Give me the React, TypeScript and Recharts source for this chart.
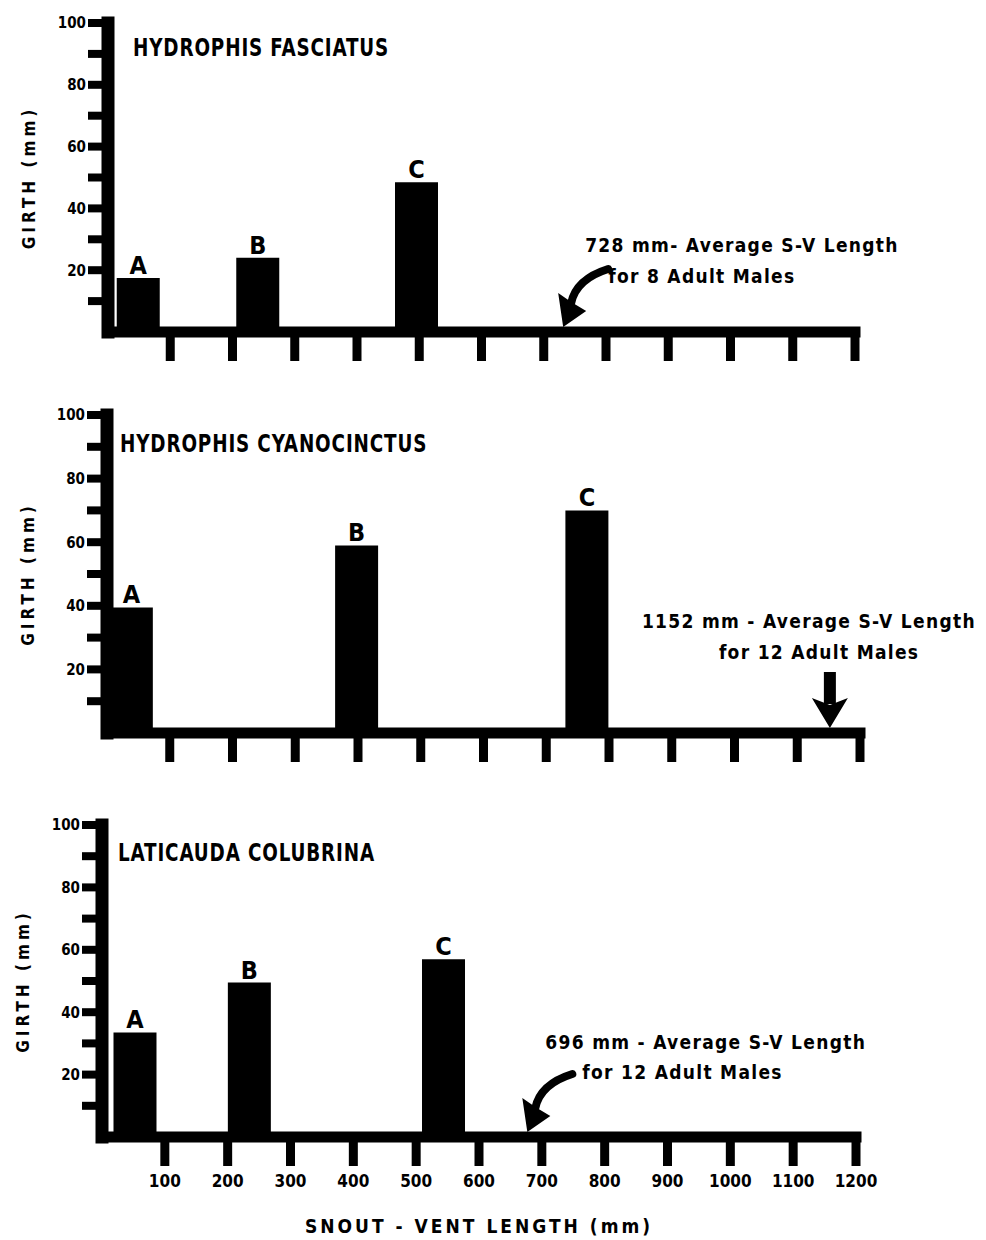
import React from 'react';
import { BarChart, Bar, XAxis, YAxis, LabelList, ReferenceDot } from 'recharts';

const FONT = '"DejaVu Sans Condensed", "Liberation Sans Narrow", "Roboto Condensed", "DejaVu Sans", sans-serif';

const barLabels = ['A', 'B', 'C'];

// snout-vent length (mm) at the centre of each bar, and girth (mm)
const fasciatusLength = [49, 241, 496];
const fasciatusGirth = [17.5, 24, 48.5];
const cyanocinctusLength = [39, 398, 765];
const cyanocinctusGirth = [39.5, 59, 70];
const colubrinaLength = [52, 234, 543];
const colubrinaGirth = [33.5, 49.5, 57];

const xTicks = [100, 200, 300, 400, 500, 600, 700, 800, 900, 1000, 1100, 1200];
const yTicks = [10, 20, 30, 40, 50, 60, 70, 80, 90, 100];
const yLabelled = [20, 40, 60, 80, 100];

const CurvedArrow = ({ x, y }: { x: number; y: number }) => (
  <g transform={`translate(${x},${y})`}>
    <path d="M8,-24 Q13,-48 45,-58" stroke="#000" strokeWidth={8} fill="none" strokeLinecap="round" />
    <polygon points="0,0 -5,-34 8,-25 23,-16" fill="#000" />
  </g>
);

const DownArrow = ({ x, y }: { x: number; y: number }) => (
  <g transform={`translate(${x},${y})`}>
    <rect x={-6} y={-56} width={12} height={32} fill="#000" />
    <polygon points="0,0 -18,-30 0,-23 18,-30" fill="#000" />
  </g>
);

type PanelProps = {
  title: string;
  lengths: number[];
  girths: number[];
  avgLength: number;
  note: string[];
  arrow: 'curve' | 'down';
  tipDx: number;
  noteDx: number[];
  noteDy: number[];
  plotTop: number;
  plotBottom: number;
  x0: number;
  x1200: number;
  titleDx: number;
  titleDy: number;
  last?: boolean;
};

const Panel = (p: PanelProps) => {
  const data = barLabels.map((label, i) => ({ label, length: p.lengths[i], girth: p.girths[i] }));
  const padTop = 20;
  const axisH = p.last ? 100 : 40;
  const height = p.plotBottom - p.plotTop + padTop + axisH;
  const textStyle = { fontFamily: FONT, fontWeight: 700, fill: '#000' };

  const note = (props: any) => {
    const tx = props.cx + p.tipDx;
    const ty = props.cy - 5;
    return (
      <g>
        {p.arrow === 'curve' ? <CurvedArrow x={tx} y={ty} /> : <DownArrow x={tx} y={ty} />}
        {p.note.map((line, i) => (
          <text key={i} x={tx + p.noteDx[i]} y={ty + p.noteDy[i]} fontSize={19} letterSpacing={1.3} {...textStyle}>
            {line}
          </text>
        ))}
      </g>
    );
  };

  return (
    <>
      <div style={{ position: 'absolute', left: 0, top: p.plotTop - padTop }}>
        <BarChart
          width={986}
          height={height}
          data={data}
          margin={{ top: padTop, right: 986 - p.x1200, bottom: 0, left: p.x0 - 80 }}
        >
          <XAxis
            type="number"
            dataKey="length"
            domain={[0, 1200]}
            ticks={xTicks}
            height={axisH}
            interval={0}
            axisLine={{ stroke: '#000', strokeWidth: 11, strokeLinecap: 'square' }}
            tickLine={{ stroke: '#000', strokeWidth: 9 }}
            tickSize={29}
            tickMargin={9}
            tickFormatter={(v: number) => (p.last ? String(v) : '')}
            tick={{ ...textStyle, fontSize: 17 }}
            label={
              p.last
                ? {
                    value: 'SNOUT - VENT LENGTH (mm)',
                    position: 'insideBottom',
                    offset: 4,
                    style: { ...textStyle, fontSize: 19, letterSpacing: 3 },
                  }
                : undefined
            }
          />
          <YAxis
            type="number"
            domain={[0, 100]}
            ticks={yTicks}
            interval={0}
            width={80}
            axisLine={{ stroke: '#000', strokeWidth: 13, strokeLinecap: 'square' }}
            tickLine={{ stroke: '#000', strokeWidth: 8 }}
            tickSize={20}
            tickMargin={2}
            tickFormatter={(v: number) => (yLabelled.includes(v) ? String(v) : '')}
            tick={{ ...textStyle, fontSize: 15 }}
            label={{
              value: 'GIRTH (mm)',
              angle: -90,
              position: 'insideLeft',
              offset: 1,
              style: { ...textStyle, fontSize: 17, letterSpacing: 4, textAnchor: 'middle' },
            }}
          />
          <Bar dataKey="girth" fill="#000" barSize={43} isAnimationActive={false}>
            <LabelList dataKey="label" position="top" offset={4} style={{ ...textStyle, fontSize: 25 }} />
          </Bar>
          <ReferenceDot x={p.avgLength} y={0} r={0} shape={note} />
        </BarChart>
      </div>
      <div
        style={{
          position: 'absolute',
          left: p.x0 + p.titleDx,
          top: p.plotTop + p.titleDy - 12,
          fontFamily: FONT,
          fontWeight: 700,
          fontSize: 24,
          lineHeight: '24px',
          letterSpacing: 1,
          whiteSpace: 'nowrap',
          transform: 'scaleX(0.85)',
          transformOrigin: 'left center',
        }}
      >
        {p.title}
      </div>
    </>
  );
};

const App = () => (
  <div style={{ position: 'absolute', left: 0, top: 0, width: 986, height: 1240, background: '#fff' }}>
    <Panel
      title="HYDROPHIS FASCIATUS"
      lengths={fasciatusLength}
      girths={fasciatusGirth}
      avgLength={728}
      note={['728 mm- Average S-V Length', 'for 8 Adult Males']}
      arrow="curve"
      tipDx={2}
      noteDx={[22, 45]}
      noteDy={[-75, -44]}
      plotTop={23}
      plotBottom={332}
      x0={108}
      x1200={855}
      titleDx={25}
      titleDy={25}
    />
    <Panel
      title="HYDROPHIS CYANOCINCTUS"
      lengths={cyanocinctusLength}
      girths={cyanocinctusGirth}
      avgLength={1152}
      note={['1152 mm - Average S-V Length', 'for 12 Adult Males']}
      arrow="down"
      tipDx={0}
      noteDx={[-188, -111]}
      noteDy={[-100, -69]}
      plotTop={415}
      plotBottom={733}
      x0={107}
      x1200={860}
      titleDx={13}
      titleDy={29}
    />
    <Panel
      title="LATICAUDA COLUBRINA"
      lengths={colubrinaLength}
      girths={colubrinaGirth}
      avgLength={696}
      note={['696 mm - Average S-V Length', 'for 12 Adult Males']}
      arrow="curve"
      tipDx={-12}
      noteDx={[18, 55]}
      noteDy={[-83, -53]}
      plotTop={825}
      plotBottom={1137}
      x0={102}
      x1200={856}
      titleDx={16}
      titleDy={28}
      last
    />
  </div>
);

export default App;
